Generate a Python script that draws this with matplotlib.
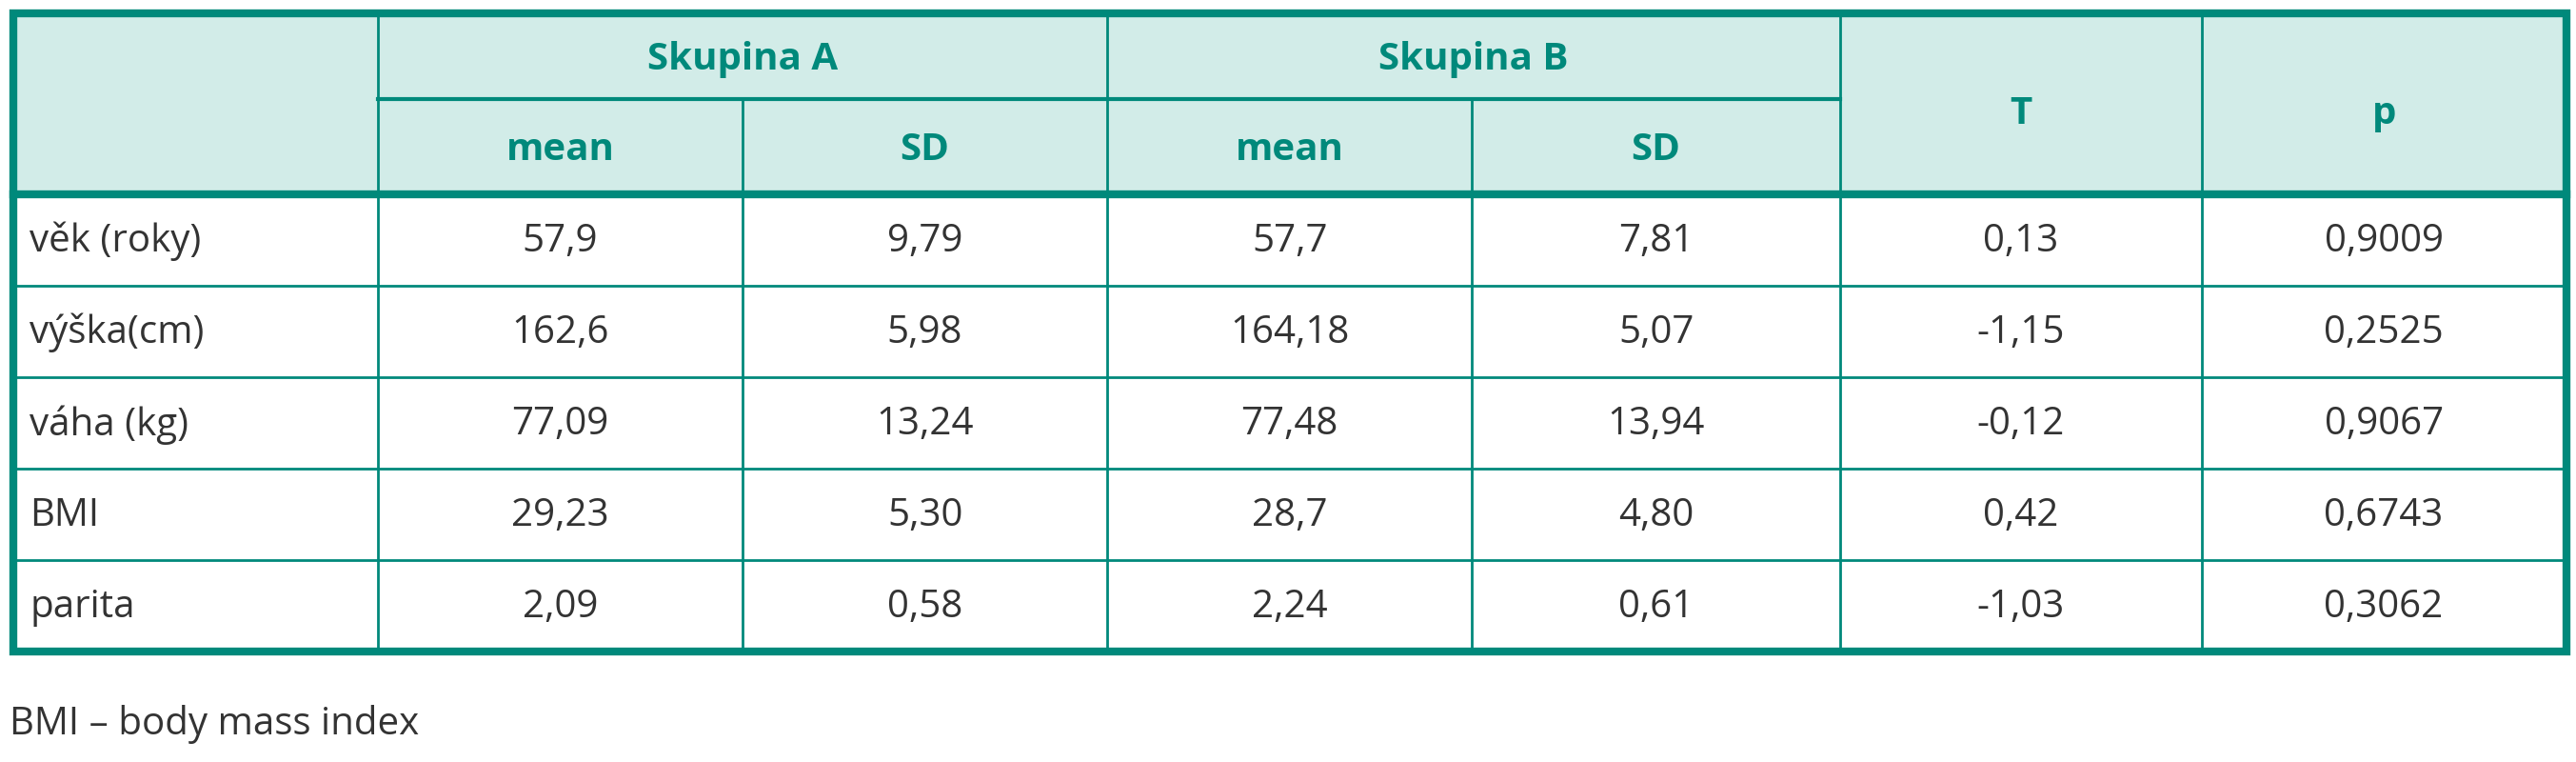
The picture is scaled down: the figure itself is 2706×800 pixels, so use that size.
import matplotlib
matplotlib.use("Agg")
import matplotlib.pyplot as plt
from matplotlib.patches import Rectangle

rows = ["věk (roky)", "výška(cm)", "váha (kg)", "BMI", "parita"]
mean_a = ["57,9", "162,6", "77,09", "29,23", "2,09"]
sd_a = ["9,79", "5,98", "13,24", "5,30", "0,58"]
mean_b = ["57,7", "164,18", "77,48", "28,7", "2,24"]
sd_b = ["7,81", "5,07", "13,94", "4,80", "0,61"]
t_vals = ["0,13", "-1,15", "-0,12", "0,42", "-1,03"]
p_vals = ["0,9009", "0,2525", "0,9067", "0,6743", "0,3062"]
groups = ["Skupina A", "Skupina B"]
subcols = ["mean", "SD"]
footnote = "BMI – body mass index"

TEAL = "#00897b"
FILL = "#d2ece8"
TXT = "#333333"
plt.rcParams['font.family'] = ['Open Sans', 'DejaVu Sans']

fig = plt.figure(figsize=(27.06, 8), dpi=100)
ax = fig.add_axes([0, 0, 1, 1])
ax.set_xlim(0, 1568); ax.set_ylim(463, 0); ax.axis("off")

xs = [8, 230, 452, 674, 896, 1120, 1340, 1562]
ytop, ysplit, yhead = 8, 60, 118
rh = 55.6
ybot = yhead + rh * len(rows)
fs = 29

ax.add_patch(Rectangle((xs[0], ytop), xs[-1]-xs[0], yhead-ytop, color=FILL, lw=0))
thin = 2.0
ax.plot([xs[1], xs[5]], [ysplit, ysplit], color=TEAL, lw=3)
for i in range(1, len(rows)):
    y = yhead + rh * i
    ax.plot([xs[0], xs[-1]], [y, y], color=TEAL, lw=thin)
ax.plot([xs[0], xs[-1]], [yhead, yhead], color=TEAL, lw=6)
for j, x in enumerate(xs[1:-1], start=1):
    y0 = ysplit if j in (2, 4) else ytop
    ax.plot([x, x], [y0, ybot], color=TEAL, lw=thin)
ax.add_patch(Rectangle((xs[0], ytop), xs[-1]-xs[0], ybot-ytop, fill=False, ec=TEAL, lw=6))

for g, name in enumerate(groups):
    cx = (xs[1 + 2*g] + xs[3 + 2*g]) / 2
    ax.text(cx, (ytop+ysplit)/2 + 2, name, ha="center", va="center", fontsize=fs, fontweight="bold", color=TEAL)
    for k, s in enumerate(subcols):
        ax.text((xs[1+2*g+k] + xs[2+2*g+k]) / 2, (ysplit+yhead)/2 + 2, s, ha="center", va="center",
                fontsize=fs, fontweight="bold", color=TEAL)
ax.text((xs[5]+xs[6])/2, (ytop+yhead)/2 + 6, "T", ha="center", va="center", fontsize=fs, fontweight="bold", color=TEAL)
ax.text((xs[6]+xs[7])/2, (ytop+yhead)/2 + 6, "p", ha="center", va="center", fontsize=fs, fontweight="bold", color=TEAL)

cols = [mean_a, sd_a, mean_b, sd_b, t_vals, p_vals]
for i, r in enumerate(rows):
    cy = yhead + rh * (i + 0.5) + 1
    ax.text(xs[0] + 10, cy, r, ha="left", va="center", fontsize=fs, color=TXT)
    for j, col in enumerate(cols):
        ax.text((xs[j+1] + xs[j+2]) / 2, cy, col[i], ha="center", va="center", fontsize=fs, color=TXT)

ax.text(xs[0] - 2, 440, footnote, ha="left", va="center", fontsize=fs, color=TXT)
fig.savefig("out.png", dpi=100)
